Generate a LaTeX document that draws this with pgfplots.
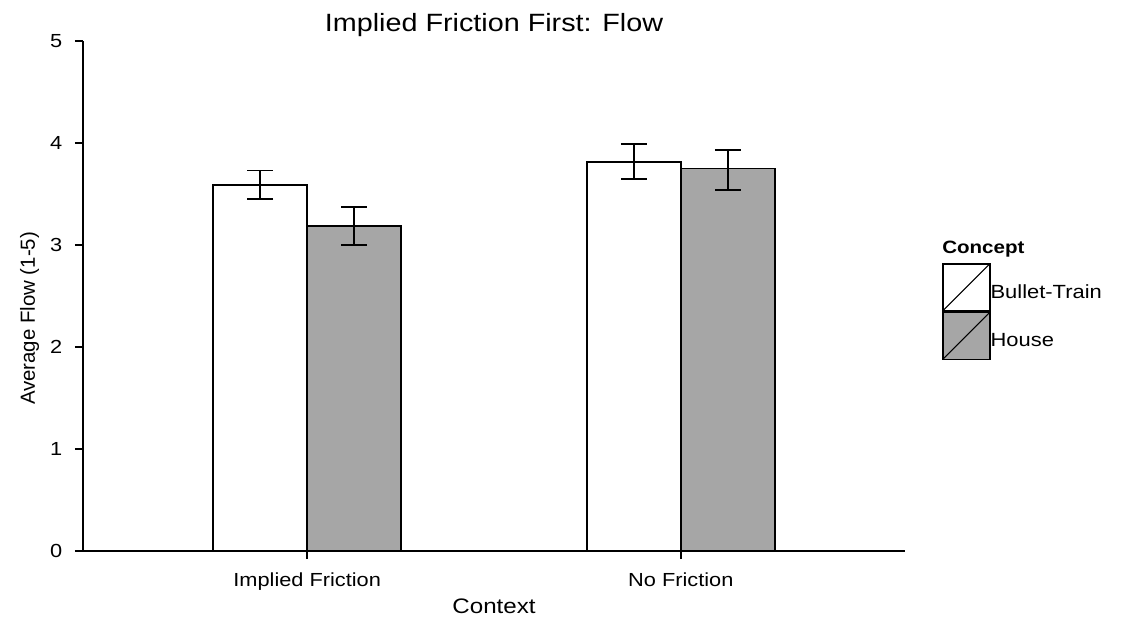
\documentclass[border=0pt]{standalone}
\usepackage{pgfplots}
\pgfplotsset{compat=1.18}
\usepackage{pgfplotstable}
\usepackage{fontspec}
\setmainfont[FakeStretch=1.15]{Liberation Sans}
\newfontfamily\plainfont{Liberation Sans}
\definecolor{barGray}{RGB}{166,166,166}

\pgfplotstableread{
x y ep em
0 3.59 0.14 0.14
1 3.81 0.18 0.16
}\tabBullet
\pgfplotstableread{
x y ep em
0 3.19 0.18 0.19
1 3.75 0.18 0.21
}\tabHouse

\pgfplotsset{
  boxlegend/.style={
    legend image code/.code={
      \draw[##1, line width=1.2pt] (0pt,-13.5pt) rectangle (35.25pt,21.75pt);
      \draw[black, line width=0.8pt] (0pt,-13.5pt) -- (35.25pt,21.75pt);
    }
  }
}

\begin{document}
\begin{tikzpicture}
\path (-62.25pt,-53.25pt) rectangle (778.5pt,413.25pt);
\begin{axis}[
  at={(0,0)}, anchor=south west,
  scale only axis, width=616.5pt, height=382.5pt,
  xmin=-0.6, xmax=1.6, ymin=0, ymax=5,
  axis x line=bottom, axis y line=left,
  axis line style={-, line width=1.3pt},
  ybar=0pt, bar width=70.5pt,
  xtick={0,1}, xticklabels={Implied Friction, No Friction},
  ytick={0,1,2,3,4,5},
  tick align=outside, major tick length=6pt,
  tick style={black, line width=1.3pt},
  /pgf/number format/assume math mode=true,
  tick label style={font=\fontsize{14.2}{16}\selectfont},
  xticklabel style={yshift=-6.5pt},
  yticklabel style={xshift=-6pt},
  title={Implied Friction First: Flow},
  title style={at={(axis description cs:0.5,1)}, anchor=base, yshift=0.75pt, font=\fontsize{18.75}{22}\selectfont},
  xlabel={Context},
  xlabel style={at={(axis description cs:0.5,0)}, anchor=base, yshift=-46.5pt, font=\fontsize{15.75}{18}\selectfont},
  ylabel={Average Flow (1-5)},
  ylabel style={at={(axis description cs:0,0.456)}, anchor=base, yshift=36pt, font=\plainfont\fontsize{15.3}{18}\selectfont},
  legend style={at={(axis description cs:1.045,0.5647)}, anchor=north west, draw=none, fill=none,
    row sep=0pt, inner sep=0pt, outer sep=0pt, nodes={inner sep=0pt},
    font=\fontsize{14.3}{16}\selectfont,
    /tikz/every even column/.append style={column sep=4pt}},
  legend cell align=left,
  clip=false,
]
\addplot[fill=white, draw=black, line width=1.4pt, boxlegend,
  error bars/.cd, y dir=both, y explicit,
  error bar style={line width=1.3pt, black},
  error mark options={rotate=90, black, line width=1.3pt, mark size=9.75pt}]
  table[x=x, y=y, y error plus=ep, y error minus=em] {\tabBullet};
\addlegendentry{Bullet-Train}
\addplot[fill=barGray, draw=black, line width=1.4pt, boxlegend,
  error bars/.cd, y dir=both, y explicit,
  error bar style={line width=1.3pt, black},
  error mark options={rotate=90, black, line width=1.3pt, mark size=9.75pt}]
  table[x=x, y=y, y error plus=ep, y error minus=em] {\tabHouse};
\addlegendentry{House}
\node[anchor=base west, inner sep=0pt, font=\bfseries\fontsize{13.4}{16}\selectfont] at (axis description cs:1.045,0.584) {Concept};
\end{axis}
\end{tikzpicture}
\end{document}
